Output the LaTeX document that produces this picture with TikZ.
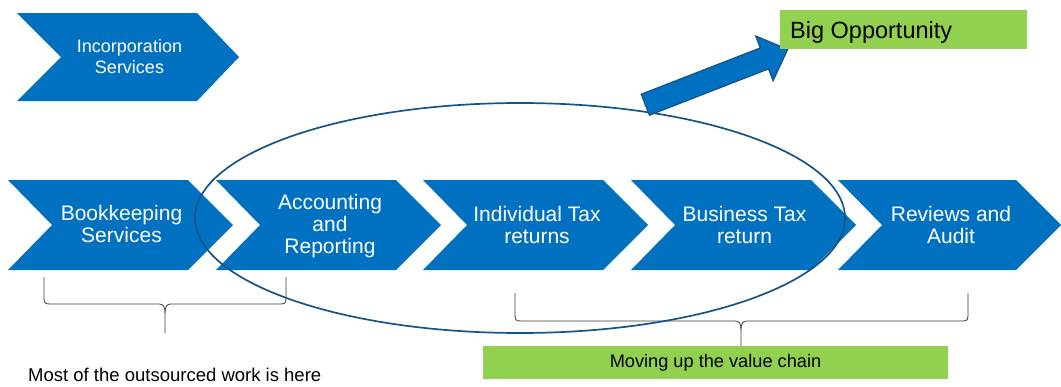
\documentclass[tikz,border=0pt]{standalone}
\usepackage{fontspec}
\setmainfont{Liberation Sans}
\definecolor{chevblue}{RGB}{0,112,192}
\definecolor{darkblue}{RGB}{22,84,136}
\definecolor{labelgreen}{RGB}{146,208,80}
\definecolor{bracegray}{RGB}{60,60,60}
\begin{document}
\begin{tikzpicture}[x=1pt,y=-1pt,
  chevtext/.style={text=white, align=center, inner sep=0pt,
    font=\fontsize{21}{22}\selectfont},
  smalltext/.style={text=white, align=center, inner sep=0pt,
    font=\fontsize{18}{21}\selectfont},
  greenbox/.style={fill=labelgreen},
  bracepath/.style={draw=bracegray, line width=0.8pt},
  ring/.style={draw=darkblue, line width=1.7pt},
  blockarrow/.style={fill=chevblue, draw=darkblue, line width=1.2pt, line join=miter}]
\useasboundingbox (0,0) rectangle (1061,386);

% upper chevron
\fill[chevblue] (17,13) -- (197,13) -- (239,57) -- (197,101) -- (17,101) -- (61,57) -- cycle;
\node[smalltext] (inc) at (129.5,56.8) {Incorporation\\Services};

% row of process chevrons
\foreach \x/\w in {8/225,216/225,423/225,631/225,838/223}
  \fill[chevblue] (\x,180) -- ({\x+\w-45},180) -- ({\x+\w},225) -- ({\x+\w-45},270)
    -- (\x,270) -- ({\x+44},225) -- cycle;

\node[chevtext] (book) at (121.5,224.2) {Bookkeeping\\Services};
\node[chevtext] (acc)  at (330,225.8) {Accounting\\and\\Reporting};
\node[chevtext] (ind)  at (537,224.7) {Individual Tax\\returns};
\node[chevtext] (bus)  at (744.5,224.7) {Business Tax\\return};
\node[chevtext] (rev)  at (951,224.7) {Reviews and\\Audit};

% left brace
\coordinate (lbL) at (44,277);
\coordinate (lbR) at (286,277);
\coordinate (lbTip) at (165,333);
\draw[bracepath] (lbL) -- (44,298) .. controls (44,303) and (45,304) .. (50,304)
  -- (159,304) .. controls (163,304) and (165,306) .. (165,313) -- (lbTip);
\draw[bracepath] (lbR) -- (286,298) .. controls (286,303) and (285,304) .. (280,304)
  -- (171,304) .. controls (167,304) and (165,306) .. (165,313);

% right brace
\coordinate (rbL) at (515,293);
\coordinate (rbR) at (968,293);
\coordinate (rbTip) at (741,346);
\draw[bracepath] (rbL) -- (515,315) .. controls (515,320) and (516,321) .. (521,321)
  -- (735,321) .. controls (739,321) and (741,323) .. (741,330) -- (rbTip);
\draw[bracepath] (rbR) -- (968,315) .. controls (968,320) and (967,321) .. (962,321)
  -- (747,321) .. controls (743,321) and (741,323) .. (741,330);

\node[anchor=base west, inner sep=0pt, font=\fontsize{18.5}{21}\selectfont]
  (most) at (28,381) {Most of the outsourced work is here};

% ellipse around the core services
\draw[ring] (520,218) ellipse [x radius=325, y radius=115];

% block arrow towards the opportunity
\draw[blockarrow] (641.2,94.2) -- (760.3,47.9) -- (755.7,36.0) -- (787.7,49.3)
  -- (773.1,80.8) -- (768.5,68.9) -- (649.4,115.2) -- cycle;

% green labels
\fill[greenbox] (780,10) rectangle (1027,49);
\node[anchor=base west, inner sep=0pt, font=\fontsize{23.5}{26}\selectfont]
  (big) at (790,38) {Big Opportunity};

\fill[greenbox] (483,346) rectangle (948,379);
\node[inner sep=0pt, font=\fontsize{18.2}{21}\selectfont]
  (value) at (715.5,362.5) {Moving up the value chain};
\end{tikzpicture}
\end{document}
